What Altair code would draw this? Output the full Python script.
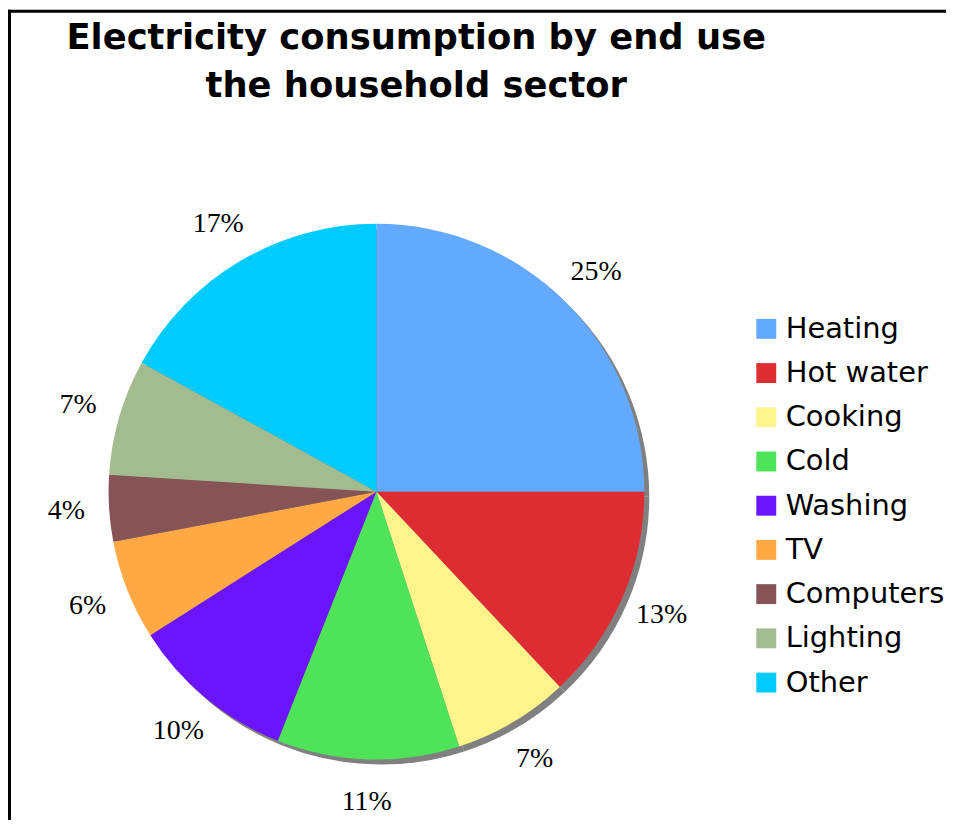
import altair as alt
import pandas as pd

uses = ["Heating", "Hot water", "Cooking", "Cold", "Washing", "TV", "Computers", "Lighting", "Other"]
shares = [25, 13, 7, 11, 10, 6, 4, 7, 17]
colors = ["#63AAFE", "#DD2D32", "#FFF48C", "#4FE35A", "#6B14FE", "#FEA846", "#865457", "#A3BC8F", "#00CBFE"]
title_lines = ["Electricity consumption by end use", "the household sector"]

df = pd.DataFrame({"use": uses, "share": shares, "idx": list(range(len(uses)))})

TOP = 100
TOTAL_H = 812
CX, CY, R = 370, 492 - 8 - TOP, 269

base = alt.Chart(df).transform_calculate(
    label="datum.share + '%'"
).encode(
    theta=alt.Theta("share:Q", stack=True),
    order=alt.Order("idx:Q"),
)

shadow = base.mark_arc(outerRadius=R, color="#808080").encode(
    x=alt.value(CX + 5), y=alt.value(CY + 5)
)

pie = base.mark_arc(outerRadius=R).encode(
    color=alt.Color(
        "use:N",
        sort=uses,
        scale=alt.Scale(domain=uses, range=colors),
        legend=alt.Legend(
            title=None,
            orient="none",
            legendX=747,
            legendY=328 - 8 - TOP - 14,
            symbolType="square",
            symbolSize=400,
            symbolStrokeWidth=0,
            labelFont="DejaVu Sans",
            labelFontSize=29,
            labelColor="black",
            labelOffset=5,
            rowPadding=14.4,
            padding=0,
            labelLimit=300,
        ),
    ),
    x=alt.value(CX),
    y=alt.value(CY),
)

labels = base.mark_text(
    radius=312, font="Liberation Serif", fontSize=28, color="black",
    align="center", baseline="middle"
).encode(text="label:N", x=alt.value(CX), y=alt.value(CY))

frame_df = pd.DataFrame({"k": [0]})
left_rule = alt.Chart(frame_df).mark_rule(color="black", strokeWidth=3).encode(
    x=alt.value(1.5), y=alt.value(-TOP), y2=alt.value(730)
)
top_rule = alt.Chart(frame_df).mark_rule(color="black", strokeWidth=3).encode(
    x=alt.value(0), x2=alt.value(960), y=alt.value(-TOP + 1.5)
)

chart = alt.layer(shadow, pie, labels, left_rule, top_rule).properties(
    width=942,
    height=TOTAL_H - TOP,
    padding={"left": 0, "top": TOP, "right": 0, "bottom": 0},
    autosize="none",
    title=alt.TitleParams(
        title_lines,
        anchor="start",
        frame="group",
        align="center",
        dx=410,
        dy=105,
        font="DejaVu Sans",
        fontSize=35.5,
        fontWeight="bold",
        lineHeight=49,
        color="black",
        offset=8,
    ),
).configure_view(stroke=None)

chart.save("out.html", embed_options={"renderer": "svg", "actions": False})
